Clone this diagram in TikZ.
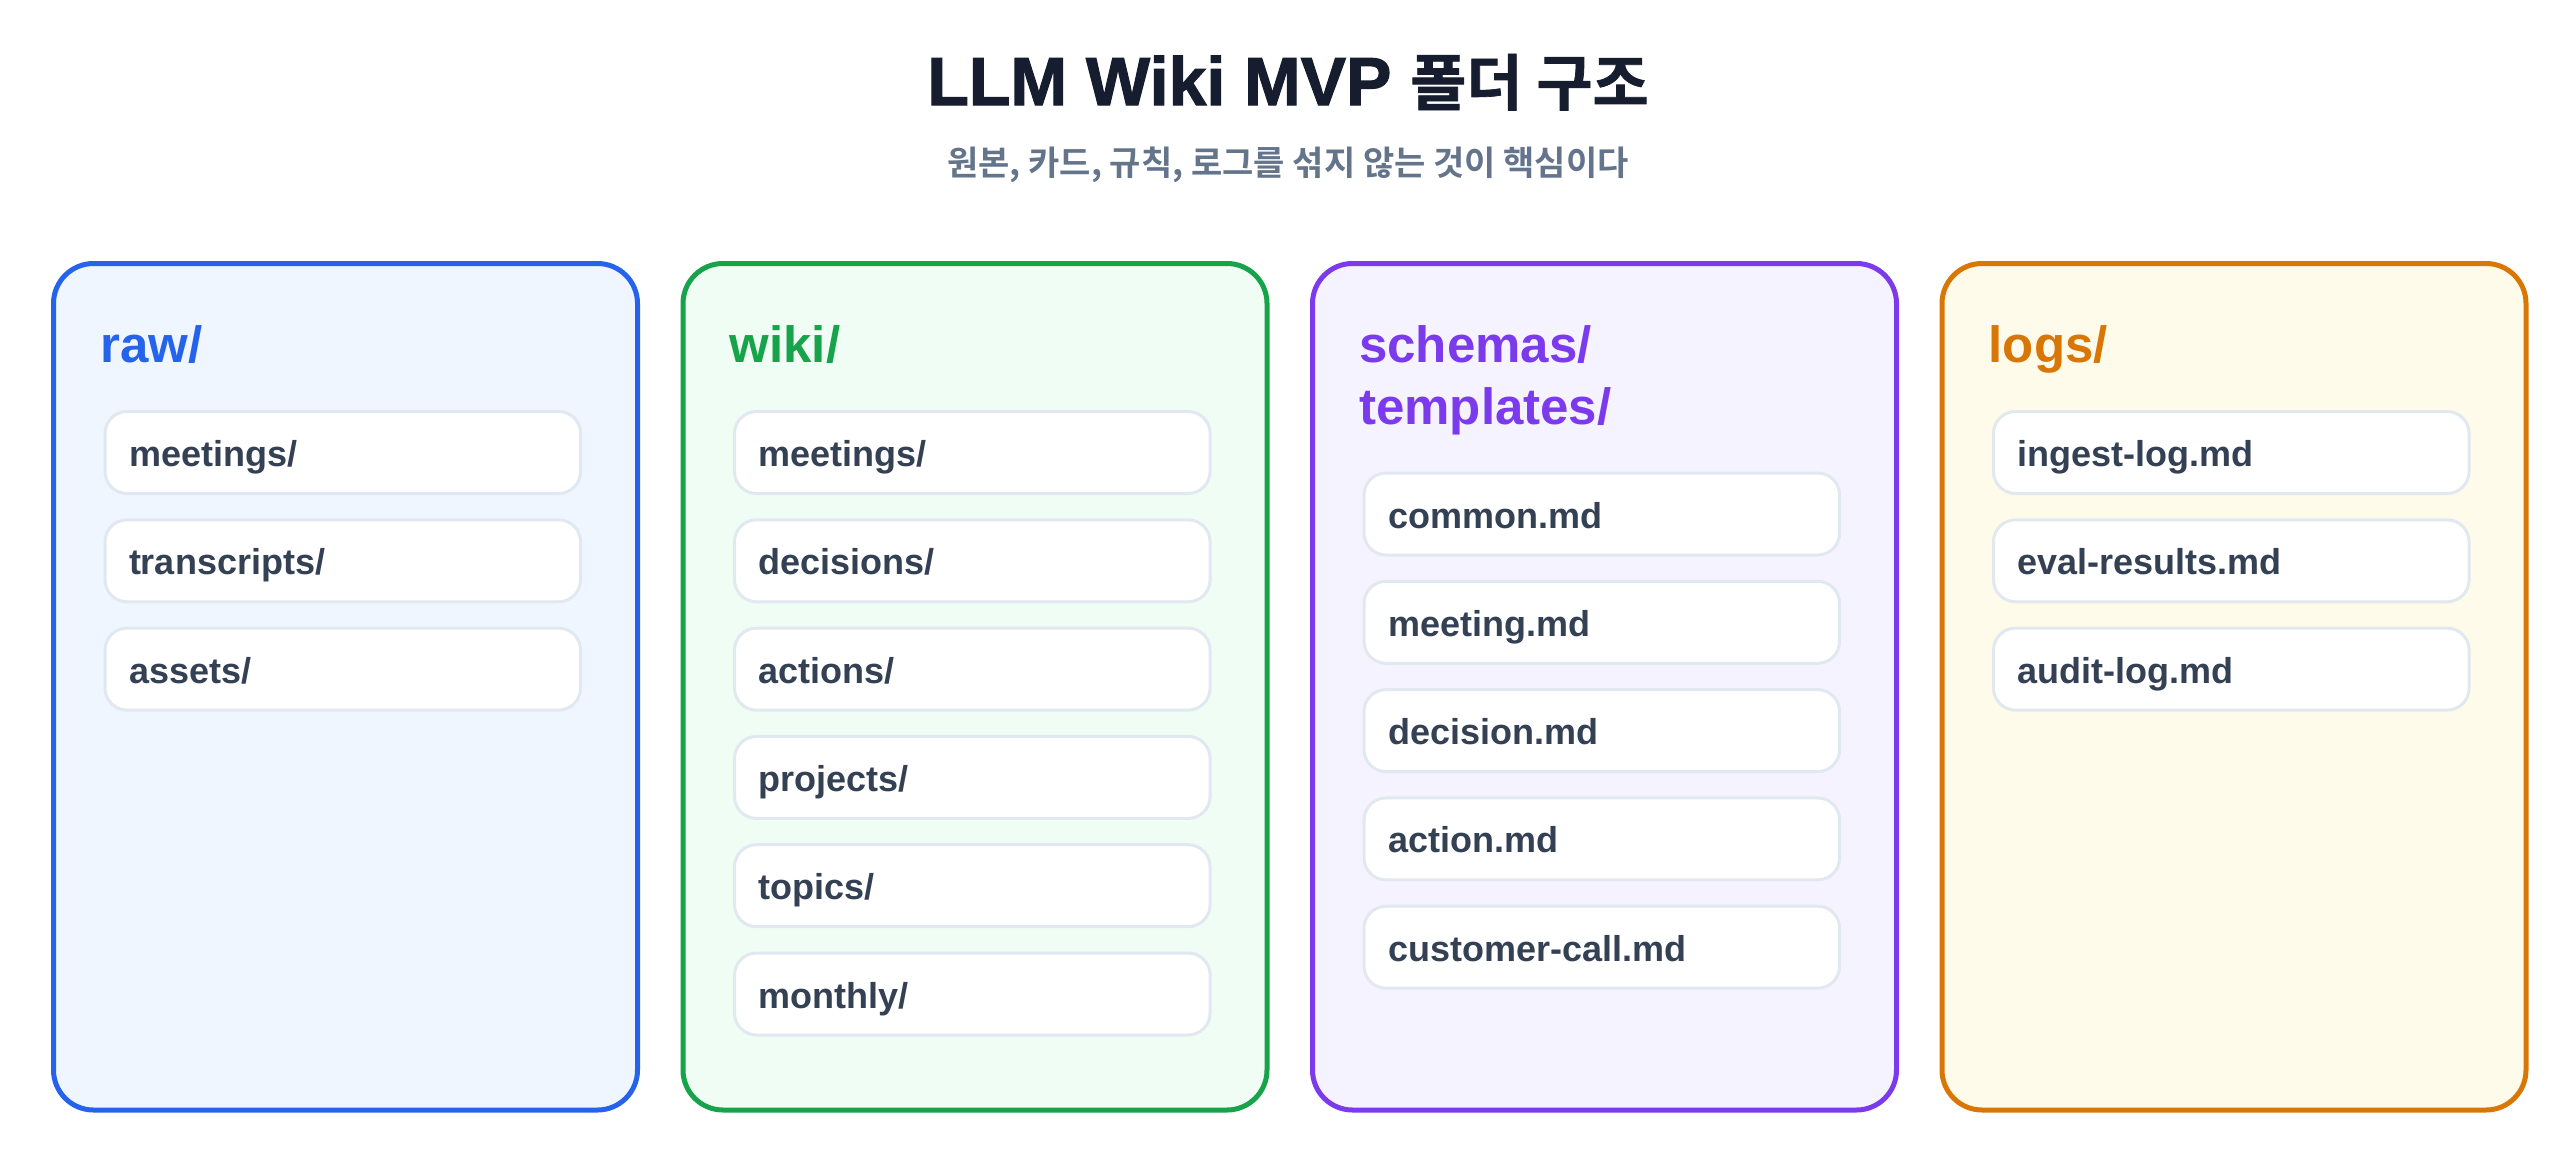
\documentclass[tikz,border=0pt]{standalone}
\usepackage{fontspec}
\setmainfont{Liberation Sans}
\newfontfamily\cjk{Noto Sans CJK KR}[BoldFont={Noto Sans CJK KR Bold}]
\newfontfamily\titlelatin{Liberation Sans Bold}[FakeBold=1.6]
\newfontfamily\titlecjk{Noto Sans CJK KR Bold}[FakeBold=1.2]
\definecolor{titlec}{HTML}{161D2E}
\definecolor{subc}{HTML}{64748B}
\definecolor{itemtext}{HTML}{344154}
\definecolor{itemline}{HTML}{E2E8F0}
\definecolor{blueline}{HTML}{2563EB}
\definecolor{bluefill}{HTML}{EFF6FF}
\definecolor{greenline}{HTML}{16A34A}
\definecolor{greenfill}{HTML}{F0FDF4}
\definecolor{purpleline}{HTML}{7C3AED}
\definecolor{purplefill}{HTML}{F5F3FF}
\definecolor{orangeline}{HTML}{D97706}
\definecolor{orangefill}{HTML}{FFFBEB}
\begin{document}
\begin{tikzpicture}[x=1pt,y=-1pt,
  panel/.style={rectangle, rounded corners=40pt, line width=5pt, inner sep=0pt,
    minimum width=584pt, minimum height=846.5pt, anchor=north west},
  heading/.style={anchor=base west, inner sep=0pt, font=\fontsize{51}{61}\selectfont\bfseries},
  itembox/.style={rectangle, rounded corners=22pt, draw=itemline, line width=3pt, fill=white,
    minimum width=475.6pt, minimum height=82pt, inner xsep=24pt, inner ysep=0pt,
    text width=427.6pt, align=left, text height=28pt, text depth=0pt,
    text=itemtext, font=\fontsize{36}{40}\selectfont\bfseries}
]
\useasboundingbox (0,0) rectangle (2576,1159);
\fill[white] (0,0) rectangle (2576,1159);

% title and subtitle
\node[anchor=base, inner sep=0pt, text=titlec, font=\titlelatin\fontsize{68}{80}\selectfont] (title) at (1288,105)
  {LLM Wiki MVP {\titlecjk\fontsize{61}{70}\selectfont 폴더 구조}};
\node[anchor=base, inner sep=0pt, text=subc, font=\cjk\bfseries\fontsize{34}{40}\selectfont] (subtitle) at (1288,175)
  {원본, 카드, 규칙, 로그를 섞지 않는 것이 핵심이다};

% panels
\node[panel, draw=blueline, fill=bluefill] (raw) at (51,261) {};
\node[panel, draw=greenline, fill=greenfill] (wiki) at (680.5,261) {};
\node[panel, draw=purpleline, fill=purplefill] (schemas) at (1310,261) {};
\node[panel, draw=orangeline, fill=orangefill] (logs) at (1939.5,261) {};

% headings
\node[heading, text=blueline] (rawh) at (100,362.7) {raw/};
\node[heading, text=greenline] (wikih) at (729.5,362.7) {wiki/};
\node[heading, text=purpleline] (schemash) at (1359,362.7) {schemas/};
\node[heading, text=purpleline] (templatesh) at (1359,424.3) {templates/};
\node[heading, text=orangeline] (logsh) at (1988.5,362.7) {logs/};

% raw items
\node[itembox] (raw1) at (342.8,452.5) {meetings/};
\node[itembox] (raw2) at (342.8,560.8) {transcripts/};
\node[itembox] (raw3) at (342.8,669.1) {assets/};

% wiki items
\node[itembox] (wiki1) at (972.3,452.5) {meetings/};
\node[itembox] (wiki2) at (972.3,560.8) {decisions/};
\node[itembox] (wiki3) at (972.3,669.1) {actions/};
\node[itembox] (wiki4) at (972.3,777.4) {projects/};
\node[itembox] (wiki5) at (972.3,885.7) {topics/};
\node[itembox] (wiki6) at (972.3,994.0) {monthly/};

% schemas items
\node[itembox] (sch1) at (1601.8,514.0) {common.md};
\node[itembox] (sch2) at (1601.8,622.3) {meeting.md};
\node[itembox] (sch3) at (1601.8,730.6) {decision.md};
\node[itembox] (sch4) at (1601.8,838.9) {action.md};
\node[itembox] (sch5) at (1601.8,947.2) {customer-call.md};

% logs items
\node[itembox] (log1) at (2231.3,452.5) {ingest-log.md};
\node[itembox] (log2) at (2231.3,560.8) {eval-results.md};
\node[itembox] (log3) at (2231.3,669.1) {audit-log.md};
\end{tikzpicture}
\end{document}
